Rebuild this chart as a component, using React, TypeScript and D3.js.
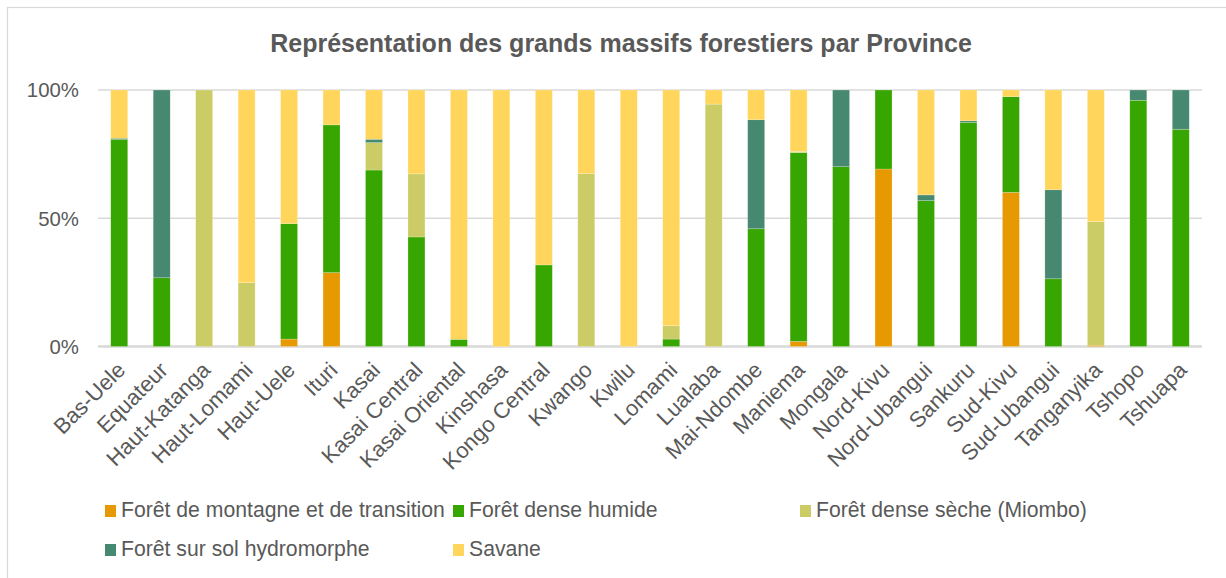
import React from "react";
import * as d3 from "d3";

const categories = [
  "Bas-Uele", "Equateur", "Haut-Katanga", "Haut-Lomami", "Haut-Uele", "Ituri", "Kasai",
  "Kasai Central", "Kasai Oriental", "Kinshasa", "Kongo Central", "Kwango", "Kwilu",
  "Lomami", "Lualaba", "Mai-Ndombe", "Maniema", "Mongala", "Nord-Kivu", "Nord-Ubangui",
  "Sankuru", "Sud-Kivu", "Sud-Ubangui", "Tanganyika", "Tshopo", "Tshuapa",
];

const seriesNames = [
  "Forêt de montagne et de transition",
  "Forêt dense humide",
  "Forêt dense sèche (Miombo)",
  "Forêt sur sol hydromorphe",
  "Savane",
];

const seriesColors = ["#E69900", "#38A600", "#CCCC66", "#478970", "#FFD65B"];

const montagne = [0, 0, 0, 0, 2.9, 28.8, 0, 0, 0, 0, 0, 0, 0, 0, 0, 0, 2.0, 0, 69.2, 0, 0, 60.1, 0, 0.5, 0, 0];
const humide = [80.8, 26.8, 0, 0, 45.0, 57.6, 68.8, 42.7, 2.8, 0, 31.8, 0, 0, 2.9, 0, 45.9, 73.6, 70.1, 30.8, 56.9, 87.4, 37.3, 26.4, 0, 96.0, 84.7];
const miombo = [0, 0, 100, 24.9, 0, 0, 10.7, 24.6, 0, 0, 0, 67.4, 0, 5.2, 94.5, 0, 0.5, 0, 0, 0, 0, 0, 0, 48.2, 0, 0];
const hydromorphe = [0.4, 73.2, 0, 0, 0, 0, 1.3, 0, 0, 0, 0, 0, 0, 0, 0, 42.5, 0, 29.9, 0, 2.2, 0.6, 0, 34.7, 0, 4.0, 15.3];
const savane = [18.8, 0, 0, 75.1, 52.1, 13.6, 19.2, 32.7, 97.2, 100, 68.2, 32.6, 100, 91.9, 5.5, 11.6, 23.9, 0, 0, 40.9, 12.0, 2.6, 38.9, 51.3, 0, 0];

const yTicks = [0, 0.5, 1];
const title = "Représentation des grands massifs forestiers par Province";

export default function App() {
  const W = 1226;
  const H = 578;
  const left = 98;
  const right = 1202;
  const top = 90;
  const bottom = 346.5;

  const seriesValues = [montagne, humide, miombo, hydromorphe, savane];
  const rows = categories.map((c, i) => {
    const r: any = { cat: c };
    const total = seriesValues.reduce((s, arr) => s + arr[i], 0);
    seriesNames.forEach((n, k) => (r[n] = seriesValues[k][i] / total));
    return r;
  });
  const stack = d3.stack<any>().keys(seriesNames);
  const stacked = stack(rows);

  const x = d3.scaleBand<string>().domain(categories).range([left, right]).padding(0);
  const y = d3.scaleLinear().domain([0, 1]).range([bottom, top]);
  const step = x.bandwidth();
  const barW = step * 0.4;

  const textColor = "#595959";
  const font = "'Liberation Sans', Arial, sans-serif";

  const legendItems = [
    { x: 105, y: 505 },
    { x: 453, y: 505 },
    { x: 800, y: 505 },
    { x: 105, y: 544 },
    { x: 453, y: 544 },
  ];

  return (
    <svg
      width={W}
      height={H}
      style={{ position: "absolute", left: 0, top: 0, background: "#fff" }}
      fontFamily={font}
    >
      <rect x={0} y={0} width={W} height={H} fill="#fff" />
      <rect x={7.5} y={7.5} width={W + 20} height={H + 20} fill="none" stroke="#d9d9d9" strokeWidth={1.2} />
      <text x={621} y={52} textAnchor="middle" fontSize={25} fontWeight="bold" fill={textColor}>
        {title}
      </text>
      {yTicks.map((t) => (
        <g key={t}>
          <line x1={left} x2={right} y1={y(t)} y2={y(t)} stroke="#d9d9d9" strokeWidth={t === 0 ? 2.5 : 1.5} />
          <text x={79} y={y(t)} dy="0.36em" textAnchor="end" fontSize={20.4} fill={textColor}>
            {d3.format(".0%")(t)}
          </text>
        </g>
      ))}
      {stacked.map((s, k) => (
        <g key={s.key} fill={seriesColors[k]}>
          {s.map((d, i) => {
            const h = y(d[0]) - y(d[1]);
            if (h <= 0) return null;
            return (
              <rect
                key={i}
                x={(x(categories[i]) as number) + (step - barW) / 2}
                y={y(d[1])}
                width={barW}
                height={h}
                stroke="#ffffff"
                strokeOpacity={0.35}
                strokeWidth={0.6}
              />
            );
          })}
        </g>
      ))}
      {categories.map((c) => {
        const cx = (x(c) as number) + step / 2 + 2;
        const cy = 366;
        return (
          <text
            key={c}
            transform={`translate(${cx},${cy}) rotate(-45)`}
            textAnchor="end"
            dy="0.35em"
            fontSize={22}
            fill={textColor}
          >
            {c}
          </text>
        );
      })}
      {seriesNames.map((n, k) => (
        <g key={n}>
          <rect x={legendItems[k].x} y={legendItems[k].y} width={11} height={12} fill={seriesColors[k]} />
          <text x={legendItems[k].x + 16} y={legendItems[k].y + 12} fontSize={21.2} fill={textColor}>
            {n}
          </text>
        </g>
      ))}
    </svg>
  );
}
